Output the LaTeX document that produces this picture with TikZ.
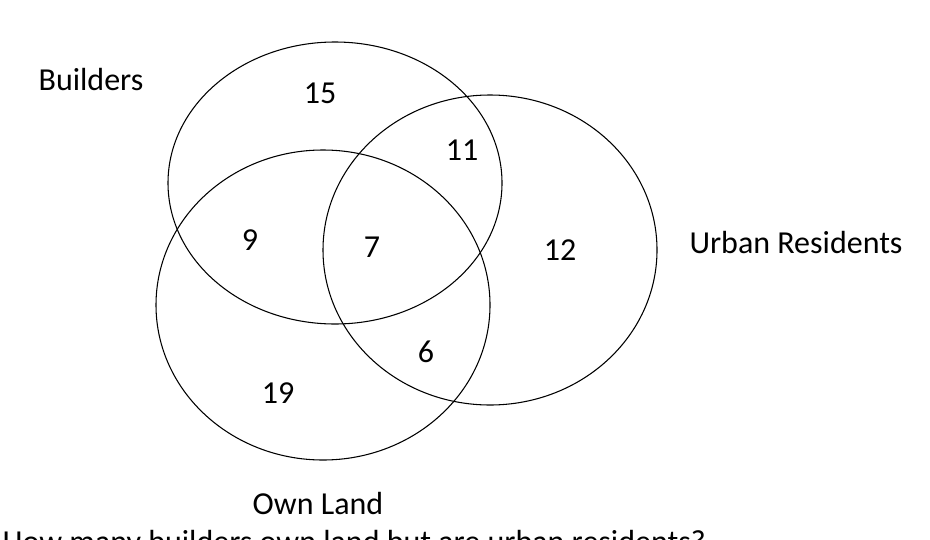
\documentclass[tikz,border=0pt]{standalone}
\usepackage{fontspec}
\setmainfont{Carlito}
\begin{document}
\begin{tikzpicture}[x=0.75pt,y=-0.75pt,
  set/.style={draw,line width=0.8pt},
  num/.style={font=\fontsize{24}{28}\selectfont},
  lbl/.style={font=\fontsize{24}{28}\selectfont}]
  \useasboundingbox (0,0) rectangle (930,539);
  \clip (0,0) rectangle (930,539);

  \draw[set] (335,183) ellipse [x radius=167,y radius=141];
  \draw[set] (490,250) ellipse [x radius=167,y radius=155];
  \draw[set] (323,305) ellipse [x radius=167,y radius=155];

  \node (builders) [lbl] at (91,80) {Builders};
  \node (urban) [lbl] at (796,243) {Urban Residents};
  \node (land) [lbl] at (318,503) {Own Land};

  \node (b) [num] at (320,93) {15};
  \node (bu) [num] at (462,150) {11};
  \node (bl) [num] at (250,240) {9};
  \node (all) [num] at (372,247) {7};
  \node (u) [num] at (560,250) {12};
  \node (ul) [num] at (426,352) {6};
  \node (l) [num] at (278,393) {19};

  \node (question) [lbl,anchor=base west] at (-2,552) {How many builders own land but are urban residents?};
\end{tikzpicture}
\end{document}
